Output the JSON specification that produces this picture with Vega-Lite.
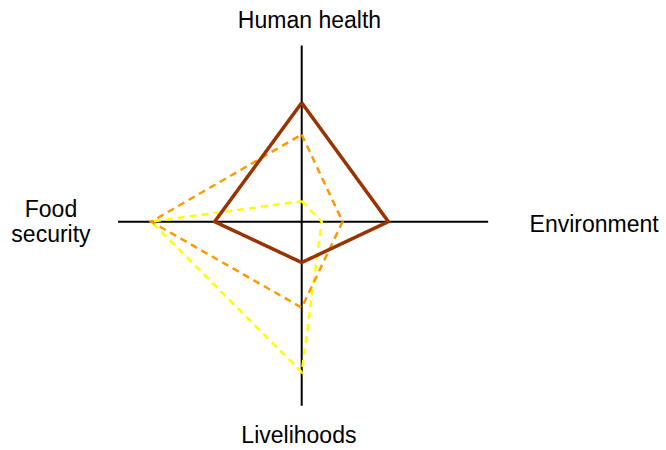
{
  "$schema": "https://vega.github.io/schema/vega-lite/v6.json",
  "width": 666,
  "height": 450,
  "autosize": {"type": "fit", "contains": "padding"},
  "padding": 0,
  "background": "white",
  "view": {"stroke": null},
  "datasets": {
    "axes": [
      {"x": -8.54, "x2": 8.67, "y": 0, "y2": 0},
      {"x": 0, "x2": 0, "y": -8.56, "y2": 8.19}
    ],
    "series": [
      {"series": "C", "order": 0, "dim": "Human health", "x": 0, "y": 0.95},
      {"series": "C", "order": 1, "dim": "Environment", "x": 0.93, "y": 0},
      {"series": "C", "order": 2, "dim": "Livelihoods", "x": 0, "y": -7},
      {"series": "C", "order": 3, "dim": "Food security", "x": -7, "y": 0},
      {"series": "C", "order": 4, "dim": "Human health", "x": 0, "y": 0.95},
      {"series": "B", "order": 0, "dim": "Human health", "x": 0, "y": 4.05},
      {"series": "B", "order": 1, "dim": "Environment", "x": 1.9, "y": 0},
      {"series": "B", "order": 2, "dim": "Livelihoods", "x": 0, "y": -4},
      {"series": "B", "order": 3, "dim": "Food security", "x": -7, "y": 0},
      {"series": "B", "order": 4, "dim": "Human health", "x": 0, "y": 4.05},
      {"series": "A", "order": 0, "dim": "Human health", "x": 0, "y": 5.53},
      {"series": "A", "order": 1, "dim": "Environment", "x": 4.03, "y": 0},
      {"series": "A", "order": 2, "dim": "Livelihoods", "x": 0, "y": -1.9},
      {"series": "A", "order": 3, "dim": "Food security", "x": -4.05, "y": 0},
      {"series": "A", "order": 4, "dim": "Human health", "x": 0, "y": 5.53}
    ],
    "labels": [
      {"label": ["Human health"], "x": 0.36, "y": 9.02},
      {"label": ["Environment"], "x": 13.6, "y": -0.465},
      {"label": ["Livelihoods"], "x": -0.13, "y": -10.29},
      {"label": ["Food", "security"], "x": -11.66, "y": 0.23}
    ]
  },
  "layer": [
    {
      "data": {"name": "axes"},
      "mark": {"type": "rule", "color": "black", "strokeWidth": 2},
      "encoding": {
        "x": {"field": "x", "type": "quantitative", "scale": {"domain": [-14.03, 16.94], "nice": false, "zero": false}, "axis": null},
        "x2": {"field": "x2"},
        "y": {"field": "y", "type": "quantitative", "scale": {"domain": [-10.62, 10.31], "nice": false, "zero": false}, "axis": null},
        "y2": {"field": "y2"}
      }
    },
    {
      "data": {"name": "series"},
      "mark": {"type": "line", "strokeJoin": "miter", "strokeCap": "butt"},
      "encoding": {
        "x": {"field": "x", "type": "quantitative", "axis": null},
        "y": {"field": "y", "type": "quantitative", "axis": null},
        "order": {"field": "order", "type": "quantitative"},
        "detail": {"field": "series"},
        "color": {"field": "series", "type": "nominal", "legend": null,
          "scale": {"domain": ["A", "B", "C"], "range": ["#993300", "#FF9900", "#FFFF00"]}},
        "strokeDash": {"field": "series", "type": "nominal", "legend": null,
          "scale": {"type": "ordinal", "domain": ["A", "B", "C"], "range": [[1, 0], [7, 5], [7, 5]]}},
        "strokeWidth": {"field": "series", "type": "nominal", "legend": null,
          "scale": {"type": "ordinal", "domain": ["A", "B", "C"], "range": [3.5, 2.5, 2.5]}}
      }
    },
    {
      "data": {"name": "labels"},
      "mark": {"type": "text", "font": "Liberation Sans", "fontSize": 23, "align": "center", "baseline": "alphabetic", "lineHeight": 25, "color": "black"},
      "encoding": {
        "x": {"field": "x", "type": "quantitative", "axis": null},
        "y": {"field": "y", "type": "quantitative", "axis": null},
        "text": {"field": "label"}
      }
    }
  ]
}
